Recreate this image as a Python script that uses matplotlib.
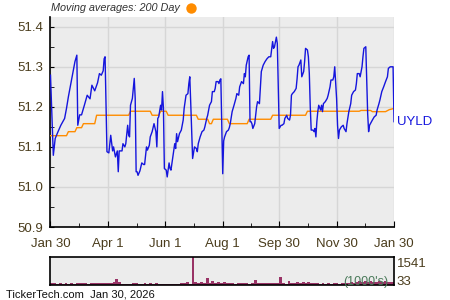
import matplotlib
matplotlib.use("Agg")
import matplotlib.pyplot as plt
from matplotlib.lines import Line2D
import numpy as np
import pandas as pd

plt.rcParams["font.family"] = ["Liberation Sans", "DejaVu Sans"]

start = pd.Timestamp("2025-01-30")
end = pd.Timestamp("2026-01-30")

# price (UYLD), as days after Jan 30, 2025
price_days = [0, 3, 5, 8, 11, 15, 17, 19, 22, 26, 28, 29, 31, 33, 36, 39, 42, 44, 47, 50,
              52, 54, 56, 57, 58, 60, 62, 64, 66, 67, 69, 71, 72, 73, 76, 77, 79, 80, 82, 83,
              84, 85, 87, 89, 90, 91, 92, 93, 95, 97, 99, 100, 102, 103, 105, 106, 108, 110, 112, 113,
              114, 115, 117, 118, 119, 120, 121, 123, 124, 126, 127, 128, 130, 132, 133, 134, 135, 137, 139, 141,
              142, 144, 146, 147, 148, 149, 151, 153, 155, 156, 157, 159, 161, 163, 164, 166, 167, 169, 171, 172,
              174, 175, 176, 178, 179, 180, 181, 182, 183, 184, 185, 187, 189, 190, 191, 193, 195, 197, 198, 200,
              201, 203, 205, 206, 207, 208, 210, 211, 212, 213, 214, 215, 217, 219, 220, 222, 223, 224, 226, 228,
              230, 232, 234, 236, 237, 238, 240, 241, 243, 245, 246, 248, 249, 251, 252, 254, 255, 256, 257, 259,
              261, 262, 263, 264, 266, 267, 269, 270, 271, 273, 274, 275, 276, 277, 279, 280, 281, 282, 283, 284,
              285, 287, 288, 289, 290, 292, 294, 295, 297, 298, 300, 301, 302, 304, 305, 306, 307, 309, 311, 312,
              314, 315, 317, 319, 320, 322, 324, 325, 326, 328, 329, 331, 332, 333, 335, 336, 337, 338, 339, 341,
              342, 344, 346, 347, 349, 350, 352, 354, 356, 358, 359, 361, 364, 365]
price = [51.279, 51.079, 51.121, 51.138, 51.154, 51.171, 51.196, 51.225, 51.263, 51.313, 51.329, 51.154, 51.180, 51.180, 51.204, 51.229, 51.220, 51.254, 51.240, 51.260,
         51.283, 51.279, 51.290, 51.320, 51.325, 51.088, 51.085, 51.129, 51.090, 51.100, 51.075, 51.090, 51.038, 51.090, 51.090, 51.108, 51.100, 51.108, 51.154, 51.130,
         51.125, 51.204, 51.221, 51.271, 51.221, 51.038, 51.038, 51.029, 51.040, 51.060, 51.056, 51.056, 51.100, 51.092, 51.104, 51.125, 51.138, 51.158, 51.138, 51.100,
         51.171, 51.175, 51.204, 51.192, 51.238, 51.196, 51.046, 51.042, 51.025, 51.060, 51.046, 51.042, 51.075, 51.108, 51.096, 51.133, 51.113, 51.133, 51.142, 51.167,
         51.196, 51.229, 51.233, 51.258, 51.275, 51.210, 51.071, 51.100, 51.096, 51.088, 51.108, 51.125, 51.138, 51.142, 51.150, 51.171, 51.179, 51.204, 51.213, 51.238,
         51.238, 51.246, 51.263, 51.263, 51.258, 51.267, 51.270, 51.150, 51.033, 51.115, 51.125, 51.138, 51.142, 51.148, 51.158, 51.188, 51.204, 51.221, 51.233, 51.229,
         51.250, 51.263, 51.258, 51.283, 51.275, 51.304, 51.325, 51.329, 51.163, 51.163, 51.158, 51.146, 51.158, 51.200, 51.213, 51.208, 51.250, 51.288, 51.304, 51.313,
         51.320, 51.325, 51.325, 51.363, 51.346, 51.350, 51.374, 51.358, 51.146, 51.154, 51.154, 51.158, 51.171, 51.179, 51.171, 51.167, 51.179, 51.229, 51.233, 51.238,
         51.246, 51.270, 51.300, 51.304, 51.317, 51.275, 51.288, 51.313, 51.346, 51.342, 51.325, 51.283, 51.200, 51.142, 51.142, 51.138, 51.146, 51.125, 51.163, 51.188,
         51.204, 51.192, 51.204, 51.188, 51.208, 51.213, 51.221, 51.229, 51.250, 51.267, 51.267, 51.275, 51.300, 51.220, 51.154, 51.121, 51.142, 51.150, 51.154, 51.146,
         51.138, 51.158, 51.188, 51.208, 51.229, 51.238, 51.242, 51.258, 51.283, 51.283, 51.275, 51.300, 51.325, 51.346, 51.350, 51.267, 51.183, 51.138, 51.154, 51.163,
         51.167, 51.175, 51.179, 51.192, 51.208, 51.217, 51.238, 51.250, 51.263, 51.275, 51.296, 51.300, 51.300, 51.163]

# 200 day moving average
ma_days = [0, 17, 19, 26, 28, 33, 35, 47, 49, 83, 85, 106, 108, 115, 117, 123, 125, 155, 157, 167,
           169, 171, 173, 188, 190, 209, 211, 234, 236, 271, 273, 328, 330, 340, 342, 356, 360, 365]
ma = [51.128, 51.128, 51.138, 51.138, 51.148, 51.148, 51.158, 51.158, 51.179, 51.179, 51.189, 51.189, 51.179, 51.179, 51.189, 51.189, 51.179, 51.179, 51.169, 51.169,
      51.158, 51.158, 51.169, 51.169, 51.158, 51.158, 51.169, 51.169, 51.179, 51.179, 51.189, 51.189, 51.191, 51.191, 51.188, 51.188, 51.193, 51.196]

# volume (1000's), one value per 3 days
volume = [130, 120, 80, 100, 70, 110, 60, 90, 80, 100, 130, 90, 110, 80, 120, 90, 110, 130, 90, 120,
          100, 130, 150, 320, 140, 70, 60, 80, 70, 110, 90, 70, 60, 110, 70, 90, 80, 120, 60, 80,
          70, 60, 80, 70, 60, 80, 130, 90, 180, 60, 1541, 140, 120, 160, 130, 400, 110, 200, 120, 150,
          110, 140, 120, 90, 100, 80, 110, 90, 100, 120, 80, 100, 290, 110, 120, 100, 110, 90, 120, 100,
          120, 450, 90, 80, 230, 100, 120, 170, 110, 150, 100, 160, 110, 120, 90, 80, 100, 80, 90, 70,
          90, 100, 80, 110, 90, 120, 150, 130, 170, 200, 160, 240, 180, 210, 150, 190, 230, 170, 200, 160,
          180, 140]

tick_dates = ["2025-01-30", "2025-04-01", "2025-06-01", "2025-08-01", "2025-09-30", "2025-11-30", "2026-01-30"]
tick_labels = ["Jan 30", "Apr 1", "Jun 1", "Aug 1", "Sep 30", "Nov 30", "Jan 30"]

txt = "#4a3c1c"
bg = "#ececec"

p_dates = start + pd.to_timedelta(price_days, unit="D")
m_dates = start + pd.to_timedelta(ma_days, unit="D")
v_dates = start + pd.to_timedelta(np.arange(len(volume)) * 3, unit="D")
ticks = pd.to_datetime(tick_dates)
minor = ticks[:-1] + (ticks[1:] - ticks[:-1]) / 2

fig = plt.figure(figsize=(4.5, 3), dpi=100)
ax = fig.add_axes([0.1122, 0.2433, 0.7634, 0.701])
ax.set_facecolor(bg)
ax.plot(m_dates, ma, color="#ff8c00", lw=1.0, zorder=3)
ax.plot(p_dates, price, color="#1515dd", lw=1.0, zorder=4)
ax.set_xlim(start, end)
ax.set_ylim(50.9, 51.425)
ax.set_yticks([50.9, 51.0, 51.1, 51.2, 51.3, 51.4])
ax.set_yticklabels(["50.9", "51.0", "51.1", "51.2", "51.3", "51.4"])
ax.set_yticks(np.arange(50.95, 51.42, 0.1), minor=True)
ax.set_xticks(ticks)
ax.set_xticklabels(tick_labels)
ax.set_xticks(minor, minor=True)
ax.grid(True, which="major", color="#d6d6d6", lw=1.0)
ax.set_axisbelow(True)
ax.tick_params(which="both", direction="in", colors="black", labelcolor=txt, labelsize=9.5)
ax.tick_params(axis="x", which="major", length=4, pad=8)
ax.tick_params(axis="x", which="minor", length=3)
ax.tick_params(axis="y", which="major", length=3, pad=5)
ax.tick_params(axis="y", which="minor", length=3)
for s in ["top", "right"]:
    ax.spines[s].set_visible(False)
for s in ["left", "bottom"]:
    ax.spines[s].set_linewidth(1.2)
ax.text(1.008, price[-1], "UYLD", transform=ax.get_yaxis_transform(), color="#1515dd",
        fontsize=9.5, va="center", ha="left")

fig.text(0.113, 0.972, "Moving averages: 200 Day", fontsize=7.8, style="italic",
         color="#333333", va="center", ha="left")
fig.add_artist(Line2D([0.4245], [0.973], transform=fig.transFigure, marker="o",
                      markersize=7.5, color="#ff8c00", markeredgewidth=0))

vax = fig.add_axes([0.1122, 0.05, 0.7634, 0.0943])
vax.set_facecolor(bg)
vax.bar(v_dates, volume, width=3, color="#993366", align="edge")
vax.set_xlim(start, end)
vax.set_ylim(0, 1541)
vax.set_xticks([])
vax.set_yticks([])
for s in vax.spines.values():
    s.set_linewidth(1.2)
vax.text(1.008, 0.75, "1541", transform=vax.transAxes, fontsize=9.5, color=txt, va="center")
vax.text(1.008, 0.12, "33", transform=vax.transAxes, fontsize=9.5, color=txt, va="center")
vax.text(0.985, 0.12, "(1000's)", transform=vax.transAxes, fontsize=9, color="#4a7a5a",
         va="center", ha="right")

fig.text(0.013, 0.018, "TickerTech.com  Jan 30, 2026", fontsize=8, color="#111111",
         va="center", ha="left")

fig.savefig("out.png", dpi=100)
